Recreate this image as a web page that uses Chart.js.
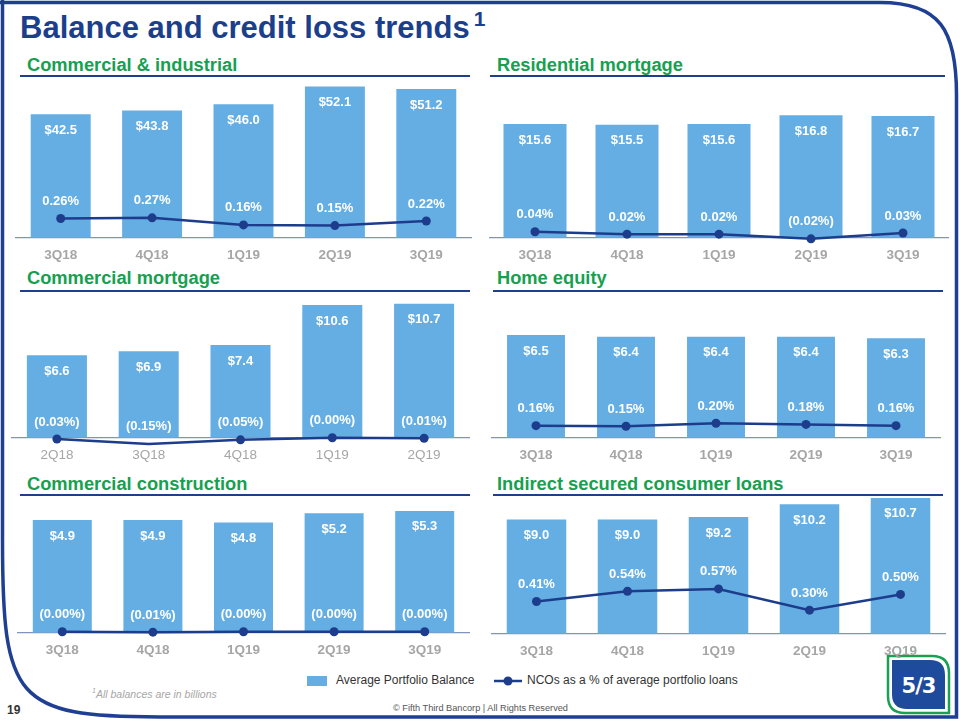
<!DOCTYPE html>
<html>
<head>
<meta charset="utf-8">
<script src="https://cdn.jsdelivr.net/npm/chart.js@4.4.0/dist/chart.umd.min.js"></script>
<style>
  body { margin: 0; width: 960px; height: 720px; position: relative; overflow: hidden; background: #fff;
         font-family: "Liberation Sans", Arial, sans-serif; }
  .abs { position: absolute; white-space: nowrap; line-height: 1; }
  .title { left: 20px; top: 12px; font-size: 31px; font-weight: bold; color: #1c3f8c; }
  .title sup { font-size: 21px; vertical-align: 0; position: relative; top: -12px; margin-left: 4px; }
  .sec { font-size: 18.3px; font-weight: bold; color: #16a04f; }
  .rule { position: absolute; height: 2px; background: #1f3f8c; }
  canvas { position: absolute; }
  .legend { font-size: 12px; color: #333; top: 674px; }
</style>
</head>
<body>
<svg class="abs" style="left:0;top:0" width="960" height="720">
  <path d="M 2.5 0 V 540 C 2.5 700 15 717 160 717 H 956.5 V 95 C 956.5 30 940 2.5 880 2.5 H 0"
        fill="none" stroke="#1f3f93" stroke-width="3.5"/>
  <!-- logo -->
  <path d="M 888 656 H 932 Q 949 656 949 673 V 713 H 905 Q 888 713 888 696 Z" fill="#fff" stroke="#1aa052" stroke-width="2.5"/>
  <path d="M 892 660 H 930 Q 945 660 945 675 V 709 H 907 Q 892 709 892 694 Z" fill="#1f4b9c"/>
  <text x="918.5" y="693" text-anchor="middle" fill="#fff" font-family="DejaVu Sans, sans-serif" font-weight="bold" font-size="21" letter-spacing="-1">5/3</text>
</svg>

<div class="abs title">Balance and credit loss trends<sup>1</sup></div>

<div class="abs sec" style="left:27px;top:56px">Commercial &amp; industrial</div>
<div class="rule" style="left:20px;top:75px;width:450px"></div>
<div class="abs sec" style="left:497px;top:56px">Residential mortgage</div>
<div class="rule" style="left:490px;top:75px;width:455px"></div>
<div class="abs sec" style="left:27px;top:269px">Commercial mortgage</div>
<div class="rule" style="left:20px;top:290px;width:450px"></div>
<div class="abs sec" style="left:497px;top:269px">Home equity</div>
<div class="rule" style="left:493px;top:290px;width:450px"></div>
<div class="abs sec" style="left:27px;top:475px">Commercial construction</div>
<div class="rule" style="left:20px;top:494px;width:450px"></div>
<div class="abs sec" style="left:497px;top:475px">Indirect secured consumer loans</div>
<div class="rule" style="left:493px;top:494px;width:450px"></div>

<canvas id="c1"></canvas>
<canvas id="c2"></canvas>
<canvas id="c3"></canvas>
<canvas id="c4"></canvas>
<canvas id="c5"></canvas>
<canvas id="c6"></canvas>

<!-- leyenda -->
<div class="abs" style="left:307px;top:676px;width:20px;height:10px;background:#64aee4"></div>
<div class="abs legend" style="left:336px">Average Portfolio Balance</div>
<svg class="abs" style="left:494px;top:675px" width="28" height="12">
  <line x1="0" y1="6" x2="28" y2="6" stroke="#1d3d8c" stroke-width="2.5"/>
  <circle cx="14" cy="6" r="4.5" fill="#1d3d8c"/>
</svg>
<div class="abs legend" style="left:527px">NCOs as a % of average portfolio loans</div>

<div class="abs" style="left:92px;top:687px;font-size:10.5px;font-style:italic;color:#a6a6a6"><sup style="font-size:7px">1</sup>All balances are in billions</div>
<div class="abs" style="left:7px;top:704px;font-size:12px;font-weight:bold;color:#333">19</div>
<div class="abs" style="left:393px;top:704px;font-size:9.2px;color:#555">© Fifth Third Bancorp | All Rights Reserved</div>

<script>
// Datos: trimestres
const quarters = ['3Q18', '4Q18', '1Q19', '2Q19', '3Q19'];
const cmQuarters = ['2Q18', '3Q18', '4Q18', '1Q19', '2Q19'];

// Saldo promedio de cartera ($B) y NCO (%)
const ciBalance = [42.5, 43.8, 46.0, 52.1, 51.2];
const ciNco = [0.26, 0.27, 0.16, 0.15, 0.22];
const resBalance = [15.6, 15.5, 15.6, 16.8, 16.7];
const resNco = [0.04, 0.02, 0.02, -0.02, 0.03];
const cmBalance = [6.6, 6.9, 7.4, 10.6, 10.7];
const cmNco = [-0.03, -0.15, -0.05, 0.00, -0.01];
const heBalance = [6.5, 6.4, 6.4, 6.4, 6.3];
const heNco = [0.16, 0.15, 0.20, 0.18, 0.16];
const ccBalance = [4.9, 4.9, 4.8, 5.2, 5.3];
const ccNco = [0.00, -0.01, 0.00, 0.00, 0.00];
const isBalance = [9.0, 9.0, 9.2, 10.2, 10.7];
const isNco = [0.41, 0.54, 0.57, 0.30, 0.50];

const barColor = '#64aee4';
const lineColor = '#1d3d8c';
const FONT = '"Liberation Sans", Arial, sans-serif';

function pctText(v) {
    return v <= 0 ? '(' + Math.abs(v).toFixed(2) + '%)' : v.toFixed(2) + '%';
}

// Etiquetas blancas sobre barras y puntos
const valueLabels = {
    id: 'valueLabels',
    afterDatasetsDraw(chart) {
        const ctx = chart.ctx;
        ctx.save();
        ctx.fillStyle = '#fff';
        ctx.font = 'bold 13px ' + FONT;
        ctx.textAlign = 'center';
        ctx.textBaseline = 'middle';
        const bars = chart.getDatasetMeta(1);
        bars.data.forEach((bar, i) => {
            ctx.fillText('$' + chart.data.datasets[1].data[i].toFixed(1), bar.x, bar.y + 16);
        });
        const pts = chart.getDatasetMeta(0);
        pts.data.forEach((pt, i) => {
            ctx.fillText(pctText(chart.data.datasets[0].data[i]), pt.x, pt.y - 17);
        });
        ctx.restore();
    }
};

const panels = [
    { id: 'c1', labels: quarters, bal: ciBalance, nco: ciNco, left: 15, width: 457, base: 236, plot: 158, yMax: 55, y2Min: -0.04, y2Max: 2.44, cat: 0.656, bold: true },
    { id: 'c2', labels: quarters, bal: resBalance, nco: resNco, left: 489, width: 460, base: 236, plot: 158, yMax: 21.9, y2Min: -0.011, y2Max: 1.34, cat: 0.685, bold: true },
    { id: 'c3', labels: cmQuarters, bal: cmBalance, nco: cmNco, left: 11, width: 459, base: 436, plot: 140, yMax: 11.32, y2Min: 0, y2Max: 3.5, cat: 0.654, bold: false },
    { id: 'c4', labels: quarters, bal: heBalance, nco: heNco, left: 491, width: 450, base: 436, plot: 140, yMax: 8.97, y2Min: -0.04, y2Max: 2.29, cat: 0.644, bold: true },
    { id: 'c5', labels: quarters, bal: ccBalance, nco: ccNco, left: 17, width: 453, base: 631, plot: 130, yMax: 5.73, y2Min: -0.025, y2Max: 3.225, cat: 0.651, bold: true },
    { id: 'c6', labels: quarters, bal: isBalance, nco: isNco, left: 491, width: 455, base: 632, plot: 136, yMax: 10.85, y2Min: 0, y2Max: 1.75, cat: 0.654, bold: true }
];

panels.forEach(p => {
    const canvas = document.getElementById(p.id);
    const h = p.plot + 37;
    canvas.width = p.width;
    canvas.height = h;
    canvas.style.left = p.left + 'px';
    canvas.style.top = (p.base - p.plot) + 'px';

    new Chart(canvas.getContext('2d'), {
        data: {
            labels: p.labels,
            datasets: [
                {
                    type: 'line',
                    data: p.nco,
                    yAxisID: 'y2',
                    borderColor: lineColor,
                    backgroundColor: lineColor,
                    borderWidth: 2.5,
                    pointRadius: 4.5,
                    pointBackgroundColor: lineColor,
                    pointBorderWidth: 0,
                    tension: 0,
                    clip: false,
                    order: 0
                },
                {
                    type: 'bar',
                    data: p.bal,
                    yAxisID: 'y',
                    backgroundColor: barColor,
                    barPercentage: 1,
                    categoryPercentage: p.cat,
                    order: 1
                }
            ]
        },
        options: {
            responsive: false,
            devicePixelRatio: 1,
            animation: false,
            layout: { padding: 0, autoPadding: false },
            plugins: {
                legend: { display: false },
                tooltip: { enabled: false }
            },
            scales: {
                x: {
                    grid: { display: false, drawTicks: false },
                    border: { display: true, color: '#8193b8', width: 1.2 },
                    ticks: {
                        color: '#a6a6a6',
                        padding: 9.5,
                        font: { family: FONT, size: 13.5, weight: p.bold ? 'bold' : 'normal' }
                    }
                },
                y: { display: false, min: 0, max: p.yMax },
                y2: { display: false, min: p.y2Min, max: p.y2Max }
            }
        },
        plugins: [valueLabels]
    });
});
</script>
</body>
</html>
